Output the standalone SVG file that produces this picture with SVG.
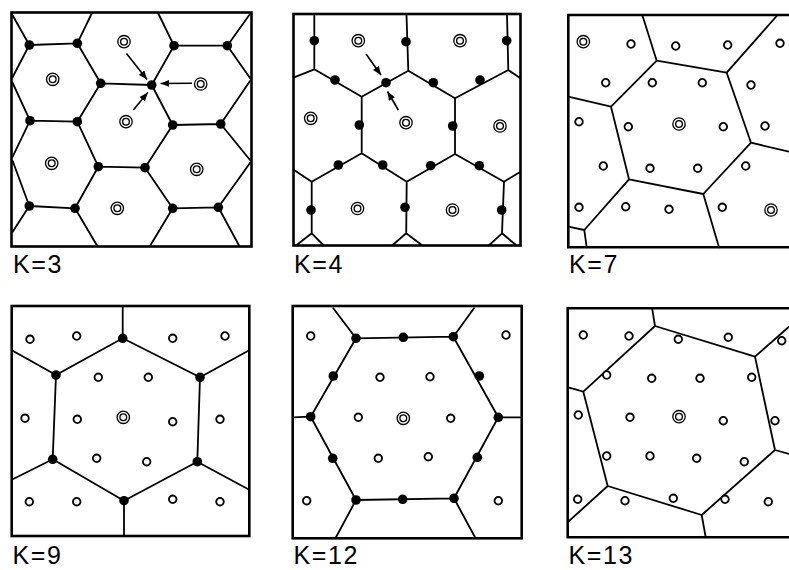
<svg xmlns="http://www.w3.org/2000/svg" xmlns:xlink="http://www.w3.org/1999/xlink" width="789" height="570" viewBox="0 0 789 570">
<style>
.frame{fill:none;stroke:#000;stroke-width:2.6}
.edge{fill:none;stroke:#000;stroke-width:1.8;stroke-linejoin:round;stroke-linecap:round}
.arr{fill:none;stroke:#000;stroke-width:1.6}
.lbl{font-family:"Liberation Sans",Arial,sans-serif;font-size:25px;letter-spacing:1.6px;fill:#000}
</style>
<defs>
<circle id="dot" r="4.8" fill="#000"/>
<circle id="ring" r="3.8" fill="#fff" stroke="#000" stroke-width="1.8"/>
<g id="dbl"><circle r="6.2" fill="#fff" stroke="#000" stroke-width="1.3"/><circle r="3.4" fill="none" stroke="#000" stroke-width="1.3"/></g>
<marker id="ah" viewBox="0 0 10 8" refX="10" refY="4" markerWidth="9" markerHeight="7" markerUnits="userSpaceOnUse" orient="auto"><path d="M0,0 L10,4 L0,8 Z" fill="#000"/></marker>
</defs>
<rect width="789" height="570" fill="#fff"/>

<g id="k3">
<rect class="frame" x="11.5" y="12.5" width="240" height="234"/>
<g id="k3-edges">
<path class="edge" d="M13,16 L29.3,45 L77.3,43.3 L91.7,13.5 M77.3,43.3 L100.7,83.3 L151.7,85 L174,45.7 L158.3,13.5 M174,45.7 L227.3,45.7 L250,14 M227.3,45.7 L250,78 M29.3,45 L12.7,77 M12.7,83 L30,120.7 L77.3,121.7 L100.7,83.3 M77.3,121.7 L98.3,166.7 L145,167.7 L172.7,125 L151.7,85 M172.7,125 L220.7,124 L250,81 M220.7,124 L250,160 M30,120.7 L12.7,156.7 M12.7,161 L29.3,206 L75,208.3 L98.3,166.7 M75,208.3 L97.3,246 M29.3,206 L12.7,231.7 M145,167.7 L172.7,208.3 L218.3,207.3 L250,163 M218.3,207.3 L239.3,246 M172.7,208.3 L150,246"/>
<line class="arr" x1="126.5" y1="53.5" x2="147" y2="79.5" marker-end="url(#ah)"/>
<line class="arr" x1="192" y1="83.3" x2="160.5" y2="83.5" marker-end="url(#ah)"/>
<line class="arr" x1="133.3" y1="110" x2="147.8" y2="92.5" marker-end="url(#ah)"/>
</g>
<use href="#dot" x="29.3" y="45"/><use href="#dot" x="77.3" y="43.3"/><use href="#dot" x="174" y="45.7"/><use href="#dot" x="227.3" y="45.7"/>
<use href="#dot" x="100.7" y="83.3"/><use href="#dot" x="151.7" y="85"/>
<use href="#dot" x="30" y="120.7"/><use href="#dot" x="77.3" y="121.7"/><use href="#dot" x="172.7" y="125"/><use href="#dot" x="220.7" y="124"/>
<use href="#dot" x="98.3" y="166.7"/><use href="#dot" x="145" y="167.7"/>
<use href="#dot" x="29.3" y="206"/><use href="#dot" x="75" y="208.3"/><use href="#dot" x="172.7" y="208.3"/><use href="#dot" x="218.3" y="207.3"/>
<use href="#dbl" x="124" y="41.7"/><use href="#dbl" x="52.7" y="79.3"/><use href="#dbl" x="200.7" y="84"/><use href="#dbl" x="126" y="121.7"/>
<use href="#dbl" x="51.7" y="163.3"/><use href="#dbl" x="196.7" y="169.3"/><use href="#dbl" x="117.3" y="208.3"/>
<text class="lbl" x="13" y="273">K=3</text>
</g>

<g id="k4">
<rect class="frame" x="293.5" y="14" width="227" height="231.5"/>
<g id="k4-edges">
<path class="edge" d="M314.3,15 L314.3,69.3 L294,77.3 M314.3,69.3 L361.7,96.7 L408.3,70.7 L455,98.3 L508.3,70 L520.5,78.3 M408.3,70.7 L406.5,15 M508.3,70 L507,15 M361.7,96.7 L361.7,153.3 L311.7,181.7 L294,170 M361.7,153.3 L406.7,181.7 L455,154 L455,98.3 M455,154 L504,181.7 L520.5,171.7 M311.7,181.7 L311.7,233.3 M406.7,181.7 L406.2,233.3 M504,181.7 L502,233.3 M296.7,245 L311.7,233.3 L323.3,245 M392.7,245 L406.2,233.3 L421.7,245 M489.3,245 L502,233.3 L516,245"/>
<line class="arr" x1="366" y1="54" x2="381" y2="75" marker-end="url(#ah)"/>
<line class="arr" x1="398.3" y1="110" x2="387.5" y2="91.5" marker-end="url(#ah)"/>
</g>
<use href="#dot" x="314.3" y="40.7"/><use href="#dot" x="406" y="41.7"/><use href="#dot" x="506.7" y="40.7"/>
<use href="#dot" x="335" y="80"/><use href="#dot" x="386" y="82.7"/><use href="#dot" x="433.3" y="82.7"/><use href="#dot" x="480" y="80"/>
<use href="#dot" x="359.3" y="125"/><use href="#dot" x="452.7" y="126"/>
<use href="#dot" x="338.3" y="165"/><use href="#dot" x="382.7" y="165"/><use href="#dot" x="430.7" y="165.7"/><use href="#dot" x="479.3" y="165.7"/>
<use href="#dot" x="311" y="210"/><use href="#dot" x="405" y="207.3"/><use href="#dot" x="501.7" y="210"/>
<use href="#dbl" x="358.3" y="40.7"/><use href="#dbl" x="460" y="40.7"/><use href="#dbl" x="310.7" y="118.3"/><use href="#dbl" x="406" y="122.7"/>
<use href="#dbl" x="500" y="126"/><use href="#dbl" x="357.5" y="208.5"/><use href="#dbl" x="452.5" y="210"/>
<text class="lbl" x="294" y="273">K=4</text>
</g>

<g id="k7">
<path class="frame" d="M789,15 H568.3 V247.3 H789"/>
<path class="edge" d="M642.3,15 L656.7,60.7 L726.7,72.7 L776.7,16 M656.7,60.7 L611,106.7 L568.3,96.7 M611,106.7 L629,179.3 L703.3,194 L751,142.7 L726.7,72.7 M751,142.7 L789,151.7 M703.3,194 L719,247.3 M629,179.3 L584.3,230 L568.3,226.7 M584.3,230 L586.7,247.3"/>
<use href="#ring" x="631" y="44"/><use href="#ring" x="675.7" y="46"/><use href="#ring" x="727.7" y="45"/><use href="#ring" x="780" y="43.3"/>
<use href="#ring" x="605.7" y="82.7"/><use href="#ring" x="652.3" y="82.7"/><use href="#ring" x="702.3" y="82.7"/><use href="#ring" x="751" y="85"/>
<use href="#ring" x="579" y="121.7"/><use href="#ring" x="628.3" y="126.7"/><use href="#ring" x="723.3" y="126.7"/><use href="#ring" x="765" y="126"/>
<use href="#ring" x="603.3" y="166"/><use href="#ring" x="650" y="168.3"/><use href="#ring" x="697.7" y="168.3"/><use href="#ring" x="745.7" y="166"/>
<use href="#ring" x="579" y="207.3"/><use href="#ring" x="625.7" y="206.7"/><use href="#ring" x="669" y="209.3"/><use href="#ring" x="722.3" y="207.3"/>
<use href="#dbl" x="583.3" y="41.7"/><use href="#dbl" x="679" y="124"/><use href="#dbl" x="771" y="210"/>
<text class="lbl" x="569" y="273">K=7</text>
</g>

<g id="k9">
<rect class="frame" x="11.7" y="306" width="237.6" height="230"/>
<path class="edge" d="M122.7,306 L122.7,338.3 L56,375 L12.7,350.7 M122.7,338.3 L200,377.3 L248.3,350.7 M56,375 L52.7,459.3 L12.7,479.3 M200,377.3 L197.3,461.7 L248.3,489.3 M52.7,459.3 L124,500.7 L197.3,461.7 M124,500.7 L124,536"/>
<use href="#dot" x="122.7" y="338.3"/><use href="#dot" x="56" y="375"/><use href="#dot" x="200" y="377.3"/>
<use href="#dot" x="52.7" y="459.3"/><use href="#dot" x="197.3" y="461.7"/><use href="#dot" x="124" y="500.7"/>
<use href="#ring" x="30" y="339.3"/><use href="#ring" x="76.7" y="336"/><use href="#ring" x="172.7" y="338.3"/><use href="#ring" x="225" y="336"/>
<use href="#ring" x="98.3" y="377.3"/><use href="#ring" x="148.3" y="377.3"/>
<use href="#ring" x="25" y="418.3"/><use href="#ring" x="77.3" y="419.3"/><use href="#ring" x="172.7" y="421.7"/><use href="#ring" x="220" y="419.3"/>
<use href="#ring" x="96.7" y="458.3"/><use href="#ring" x="146.7" y="461.7"/>
<use href="#ring" x="29.3" y="501.7"/><use href="#ring" x="76.7" y="501.7"/><use href="#ring" x="172.7" y="499.3"/><use href="#ring" x="220" y="501.7"/>
<use href="#dbl" x="123.3" y="417.3"/>
<text class="lbl" x="12.5" y="564">K=9</text>
</g>

<g id="k12">
<rect class="frame" x="292.7" y="306" width="229" height="232.3"/>
<path class="edge" d="M356,338.3 L453.3,336.7 L498.3,417.3 L454,498.3 L356,500 L310.7,416.7 Z M356,338.3 L333.3,308.3 M453.3,336.7 L474,308.3 M310.7,416.7 L292.7,417.3 M498.3,417.3 L521.7,417.3 M356,500 L336,537.3 M454,498.3 L475,537.3"/>
<use href="#dot" x="356" y="338.3"/><use href="#dot" x="403.3" y="337.3"/><use href="#dot" x="453.3" y="336.7"/>
<use href="#dot" x="333.3" y="376"/><use href="#dot" x="479.3" y="376"/>
<use href="#dot" x="310.7" y="416.7"/><use href="#dot" x="498.3" y="417.3"/>
<use href="#dot" x="332.7" y="458.3"/><use href="#dot" x="477.3" y="457.3"/>
<use href="#dot" x="356" y="500"/><use href="#dot" x="402.7" y="499.3"/><use href="#dot" x="454" y="498.3"/>
<use href="#ring" x="310.7" y="336"/><use href="#ring" x="506" y="335"/>
<use href="#ring" x="380" y="377.3"/><use href="#ring" x="430" y="376.7"/>
<use href="#ring" x="358.3" y="417.3"/><use href="#ring" x="450.7" y="418.3"/>
<use href="#ring" x="378.3" y="458.3"/><use href="#ring" x="428.3" y="456.7"/>
<use href="#ring" x="306.7" y="500.7"/><use href="#ring" x="498.3" y="500.7"/>
<use href="#dbl" x="403.3" y="418.3"/>
<text class="lbl" x="293.5" y="564">K=12</text>
</g>

<g id="k13">
<path class="frame" d="M789,308.3 H567.7 V537.3 H789"/>
<path class="edge" d="M652.3,309.3 L655,326 L755,356.7 L789,326.7 M655,326 L583.3,391.7 L568.3,387.3 M583.3,391.7 L607.7,486 L701.7,515 L775,450 L755,356.7 M775,450 L789,454 M701.7,515 L705.7,537.3 M607.7,486 L568.3,521.7"/>
<use href="#ring" x="583.3" y="335"/><use href="#ring" x="629" y="336"/><use href="#ring" x="678.3" y="339.3"/><use href="#ring" x="728.3" y="337.3"/><use href="#ring" x="781.7" y="340.7"/>
<use href="#ring" x="606.7" y="375"/><use href="#ring" x="651.7" y="378.3"/><use href="#ring" x="700" y="378.3"/><use href="#ring" x="751.7" y="377.3"/>
<use href="#ring" x="578.3" y="415"/><use href="#ring" x="630" y="417.3"/><use href="#ring" x="723.3" y="420.7"/><use href="#ring" x="775" y="420.7"/>
<use href="#ring" x="606.7" y="456"/><use href="#ring" x="650" y="456"/><use href="#ring" x="696.7" y="458.3"/><use href="#ring" x="744.3" y="461.7"/>
<use href="#ring" x="577.7" y="499.3"/><use href="#ring" x="625" y="500.7"/><use href="#ring" x="673.3" y="498.3"/><use href="#ring" x="725" y="499.3"/><use href="#ring" x="768.3" y="501.7"/>
<use href="#dbl" x="679" y="416.7"/>
<text class="lbl" x="568.5" y="564">K=13</text>
</g>
</svg>
